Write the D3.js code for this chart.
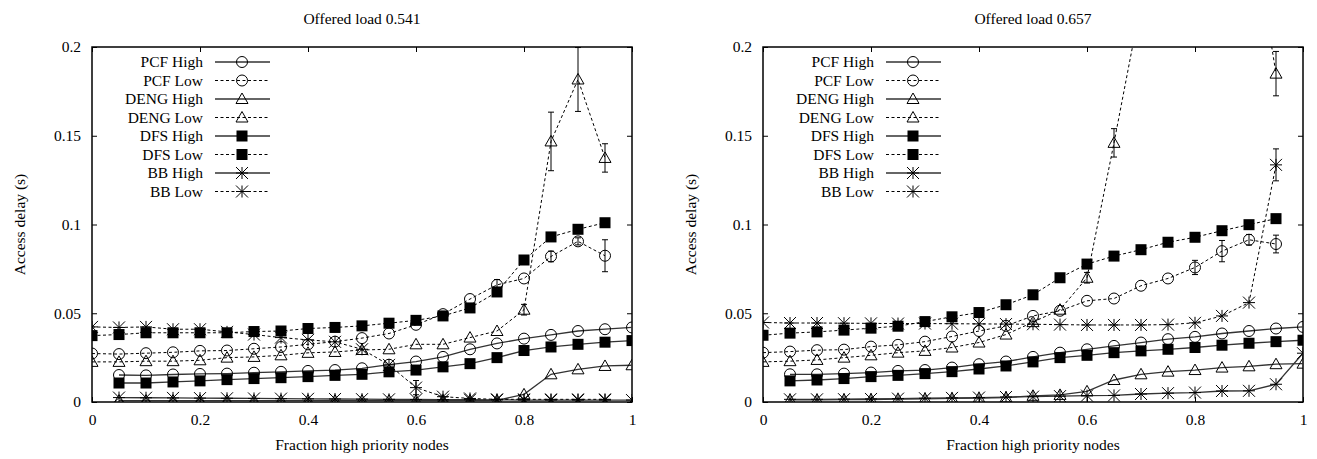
<!DOCTYPE html>
<html>
<head>
<meta charset="utf-8">
<script src="https://cdn.jsdelivr.net/npm/d3@7"></script>
<style>
  body { margin: 0; background: #fff; }
  text { font-family: "Liberation Serif", "Times New Roman", Times, serif; }
</style>
</head>
<body>
<svg id="chart" width="1317" height="459"></svg>
<script>
// x positions shared by every series (fraction of high priority nodes)
const fractions = [0, 0.05, 0.1, 0.15, 0.2, 0.25, 0.3, 0.35, 0.4, 0.45, 0.5,
  0.55, 0.6, 0.65, 0.7, 0.75, 0.8, 0.85, 0.9, 0.95, 1];
const xTicks = [0, 0.2, 0.4, 0.6, 0.8, 1];
const yTicks = [0, 0.05, 0.1, 0.15, 0.2];
const seriesNames = ['PCF High', 'PCF Low', 'DENG High', 'DENG Low',
  'DFS High', 'DFS Low', 'BB High', 'BB Low'];
const panelTitles = ['Offered load 0.541', 'Offered load 0.657'];

// offered load 0.541
const pcfHighA = [null, 0.0152, 0.015, 0.0155, 0.0158, 0.016, 0.0165, 0.017, 0.0175, 0.018, 0.019,
  0.021, 0.0228, 0.0254, 0.0297, 0.033, 0.0357, 0.0378, 0.040, 0.041, 0.042];
const pcfLowA = [0.0273, 0.027, 0.0275, 0.028, 0.0288, 0.029, 0.030, 0.031, 0.0325, 0.034, 0.036,
  0.0386, 0.0435, 0.0495, 0.058, 0.066, 0.0696, 0.082, 0.0905, 0.0824, null];
const dengHighA = [null, 0.0008, 0.0008, 0.0008, 0.0008, 0.0008, 0.0008, 0.0008, 0.0008, 0.0008, 0.0008,
  0.0008, 0.0008, 0.0008, 0.0008, 0.0009, 0.0043, 0.0156, 0.0184, 0.0203, 0.0207];
const dengLowA = [0.0226, 0.0226, 0.023, 0.023, 0.0235, 0.025, 0.0254, 0.0263, 0.0277, 0.0282, 0.0293,
  0.0297, 0.0325, 0.0325, 0.0363, 0.040, 0.052, 0.1468, 0.1817, 0.1375, null];
const dfsHighA = [null, 0.0107, 0.0107, 0.0113, 0.0119, 0.0126, 0.0132, 0.0137, 0.0143, 0.015, 0.0156,
  0.017, 0.018, 0.0198, 0.0216, 0.025, 0.029, 0.031, 0.0325, 0.0337, 0.0346];
const dfsLowA = [0.0374, 0.038, 0.039, 0.039, 0.039, 0.039, 0.0397, 0.040, 0.0414, 0.042, 0.0429,
  0.0444, 0.046, 0.0485, 0.053, 0.062, 0.080, 0.093, 0.0973, 0.101, null];
const bbHighA = [null, 0.0025, 0.0024, 0.0023, 0.0022, 0.0021, 0.002, 0.0019, 0.0018, 0.0017, 0.0016,
  0.0015, 0.0014, 0.0013, 0.0013, 0.0012, 0.0011, 0.0011, 0.0011, 0.0011, 0.0011];
const bbLowA = [0.0423, 0.042, 0.0423, 0.041, 0.041, 0.0395, 0.038, 0.0363, 0.035, 0.0339, 0.0297,
  0.0209, 0.0081, 0.003, 0.002, 0.0015, 0.0015, 0.0015, 0.0015, 0.0015, null];
// [series, x, half error]
const errorsA = [
  ['DENG Low', 0.8, 0.003], ['DENG Low', 0.85, 0.0165], ['DENG Low', 0.9, 0.018], ['DENG Low', 0.95, 0.008],
  ['PCF Low', 0.75, 0.003], ['PCF Low', 0.85, 0.003], ['PCF Low', 0.9, 0.002], ['PCF Low', 0.95, 0.009],
  ['BB Low', 0.6, 0.004],
];

// offered load 0.657
const pcfHighB = [null, 0.0156, 0.0156, 0.016, 0.0166, 0.0175, 0.018, 0.0194, 0.0213, 0.0228, 0.0254,
  0.0278, 0.0297, 0.0316, 0.0335, 0.0354, 0.0367, 0.0386, 0.040, 0.0414, 0.0423];
const pcfLowB = [0.0278, 0.0284, 0.0292, 0.0295, 0.0312, 0.0322, 0.034, 0.0369, 0.040, 0.0429, 0.0485,
  0.0514, 0.057, 0.0583, 0.0655, 0.0696, 0.0758, 0.085, 0.0914, 0.089, null];
const dengHighB = [null, 0.0012, 0.0012, 0.0013, 0.0014, 0.0016, 0.0018, 0.002, 0.0022, 0.0025, 0.0035,
  0.004, 0.006, 0.0124, 0.0156, 0.0171, 0.018, 0.0194, 0.0201, 0.0213, 0.0216];
const dengLowB = [0.0226, 0.023, 0.0237, 0.025, 0.0263, 0.0278, 0.0288, 0.0307, 0.0335, 0.038, 0.045,
  0.052, 0.070, 0.146, 0.225, 0.26, 0.27, 0.28, 0.28, 0.185, null];
const dfsHighB = [null, 0.0119, 0.0124, 0.0132, 0.0143, 0.015, 0.016, 0.0171, 0.0186, 0.0203, 0.0226,
  0.025, 0.0263, 0.0278, 0.0288, 0.0297, 0.0307, 0.032, 0.0331, 0.034, 0.0348];
const dfsLowB = [0.0376, 0.0388, 0.0395, 0.0405, 0.0416, 0.0427, 0.0453, 0.048, 0.0504, 0.0548, 0.0604,
  0.070, 0.0777, 0.0822, 0.0858, 0.090, 0.0928, 0.0965, 0.0999, 0.1033, null];
const bbHighB = [null, 0.0015, 0.0015, 0.0016, 0.0017, 0.0019, 0.0021, 0.0023, 0.0025, 0.0028, 0.003,
  0.0033, 0.0036, 0.0037, 0.0045, 0.005, 0.0053, 0.0062, 0.0063, 0.010, 0.0275];
const bbLowB = [0.0448, 0.0445, 0.0445, 0.0444, 0.0443, 0.0442, 0.0442, 0.0441, 0.044, 0.0439, 0.0438,
  0.0436, 0.0434, 0.0434, 0.0434, 0.0436, 0.0446, 0.0485, 0.056, 0.1336, null];
const errorsB = [
  ['DENG Low', 0.6, 0.003], ['DENG Low', 0.65, 0.008], ['DENG Low', 0.95, 0.0125],
  ['PCF Low', 0.8, 0.004], ['PCF Low', 0.85, 0.006], ['PCF Low', 0.9, 0.003], ['PCF Low', 0.95, 0.005],
  ['BB Low', 0.95, 0.009],
];

const panels = [
  { title: panelTitles[0], left: 92, series: [pcfHighA, pcfLowA, dengHighA, dengLowA, dfsHighA, dfsLowA, bbHighA, bbLowA], errors: errorsA },
  { title: panelTitles[1], left: 763, series: [pcfHighB, pcfLowB, dengHighB, dengLowB, dfsHighB, dfsLowB, bbHighB, bbLowB], errors: errorsB },
];

// marker per series: circle, triangle, square, star; even index = solid (High)
const markerKind = ['circle', 'circle', 'triangle', 'triangle', 'square', 'square', 'star', 'star'];

const svg = d3.select('#chart');
const plotW = 540;
const plotTop = 47;
const plotBottom = 402;
const fontSize = 15.5;
const serif = '"Liberation Serif", "Times New Roman", Times, serif';

const drawMarker = function drawMarker(g, kind, cx, cy) {
  if (kind === 'circle') {
    g.append('circle').attr('cx', cx).attr('cy', cy).attr('r', 5.5)
      .attr('fill', 'none').attr('stroke', '#000').attr('stroke-width', 1);
  } else if (kind === 'triangle') {
    const s = 6;
    g.append('path')
      .attr('d', `M${cx},${cy - s}L${cx + s},${cy + s * 0.75}L${cx - s},${cy + s * 0.75}Z`)
      .attr('fill', 'none').attr('stroke', '#000').attr('stroke-width', 1);
  } else if (kind === 'square') {
    g.append('rect').attr('x', cx - 5.5).attr('y', cy - 5.5)
      .attr('width', 11).attr('height', 11).attr('fill', '#000');
  } else {
    const s = 6;
    g.append('path')
      .attr('d', `M${cx - s},${cy - s}L${cx + s},${cy + s}M${cx - s},${cy + s}L${cx + s},${cy - s}`
        + `M${cx},${cy - s}L${cx},${cy + s}M${cx - s},${cy}L${cx + s},${cy}`)
      .attr('fill', 'none').attr('stroke', '#000').attr('stroke-width', 1);
  }
};

const lineStyle = function lineStyle(path, i) {
  if (i % 2 === 0) {
    path.attr('stroke', '#333').attr('stroke-width', 1.3);
  } else {
    path.attr('stroke', '#000').attr('stroke-width', 1).attr('stroke-dasharray', '3,2.5');
  }
  return path.attr('fill', 'none');
};

// text helper so every label gets the same serif face
const label = function label(sel) {
  return sel.attr('font-family', serif).attr('font-size', fontSize)
    .style('font-family', serif).style('font-size', `${fontSize}px`).attr('fill', '#000');
};

panels.forEach((panel, p) => {
  const x = d3.scaleLinear().domain([0, 1]).range([panel.left, panel.left + plotW]);
  const y = d3.scaleLinear().domain([0, 0.2]).range([plotBottom, plotTop]);
  const g = svg.append('g');

  // clip so lines that leave the range stop at the frame
  const clipId = `clip${p}`;
  svg.append('clipPath').attr('id', clipId)
    .append('rect')
    .attr('x', panel.left).attr('y', plotTop)
    .attr('width', plotW).attr('height', plotBottom - plotTop);

  // axes with inward ticks, mirrored on the opposite sides
  g.append('g')
    .attr('transform', `translate(0, ${plotBottom})`)
    .call(d3.axisBottom(x).tickValues(xTicks).tickSize(-5).tickPadding(12).tickFormat(d => String(d)))
    .call(a => a.select('.domain').remove())
    .attr('font-family', serif)
    .selectAll('text').call(label);
  g.append('g')
    .attr('transform', `translate(0, ${plotTop})`)
    .call(d3.axisTop(x).tickValues(xTicks).tickSize(-5).tickFormat(''))
    .call(a => a.select('.domain').remove());
  g.append('g')
    .attr('transform', `translate(${panel.left}, 0)`)
    .call(d3.axisLeft(y).tickValues(yTicks).tickSize(-5).tickPadding(11).tickFormat(d => String(d)))
    .call(a => a.select('.domain').remove())
    .attr('font-family', serif)
    .selectAll('text').call(label);
  g.append('g')
    .attr('transform', `translate(${panel.left + plotW}, 0)`)
    .call(d3.axisRight(y).tickValues(yTicks).tickSize(-5).tickFormat(''))
    .call(a => a.select('.domain').remove());

  // frame
  g.append('rect')
    .attr('x', panel.left).attr('y', plotTop)
    .attr('width', plotW).attr('height', plotBottom - plotTop)
    .attr('fill', 'none').attr('stroke', '#000').attr('stroke-width', 1.5);

  // titles
  g.append('text')
    .attr('x', panel.left + plotW / 2).attr('y', 24)
    .attr('text-anchor', 'middle').call(label)
    .text(panel.title);
  g.append('text')
    .attr('x', panel.left + plotW / 2).attr('y', 450)
    .attr('text-anchor', 'middle').call(label)
    .text('Fraction high priority nodes');
  g.append('text')
    .attr('transform', `translate(${panel.left - 67}, ${(plotTop + plotBottom) / 2}) rotate(-90)`)
    .attr('text-anchor', 'middle').call(label)
    .text('Access delay (s)');

  const line = d3.line()
    .defined(d => d[1] !== null)
    .x(d => x(d[0]))
    .y(d => y(d[1]));

  const plot = g.append('g').attr('clip-path', `url(#${clipId})`);

  panel.series.forEach((values, i) => {
    const pts = fractions.map((f, k) => [f, values[k]]);
    lineStyle(plot.append('path').datum(pts).attr('d', line), i);

    // error bars for this series
    panel.errors.filter(e => e[0] === seriesNames[i]).forEach((e) => {
      const k = fractions.indexOf(e[1]);
      const v = values[k];
      const cx = x(e[1]);
      plot.append('path')
        .attr('d', `M${cx},${y(v - e[2])}L${cx},${y(v + e[2])}`
          + `M${cx - 3},${y(v - e[2])}L${cx + 3},${y(v - e[2])}`
          + `M${cx - 3},${y(v + e[2])}L${cx + 3},${y(v + e[2])}`)
        .attr('stroke', '#000').attr('stroke-width', 1).attr('fill', 'none');
    });

    pts.filter(d => d[1] !== null && d[1] <= 0.2)
      .forEach(d => drawMarker(plot, markerKind[i], x(d[0]), y(d[1])));
  });

  // legend, top left inside the frame
  const legend = g.append('g');
  seriesNames.forEach((name, i) => {
    const ly = 62 + i * 18.5;
    legend.append('text')
      .attr('x', panel.left + 111).attr('y', ly).attr('dy', '0.35em')
      .attr('text-anchor', 'end').call(label)
      .text(name);
    lineStyle(legend.append('line')
      .attr('x1', panel.left + 123).attr('x2', panel.left + 178)
      .attr('y1', ly).attr('y2', ly), i);
    drawMarker(legend, markerKind[i], panel.left + 150, ly);
  });
});
</script>
</body>
</html>
